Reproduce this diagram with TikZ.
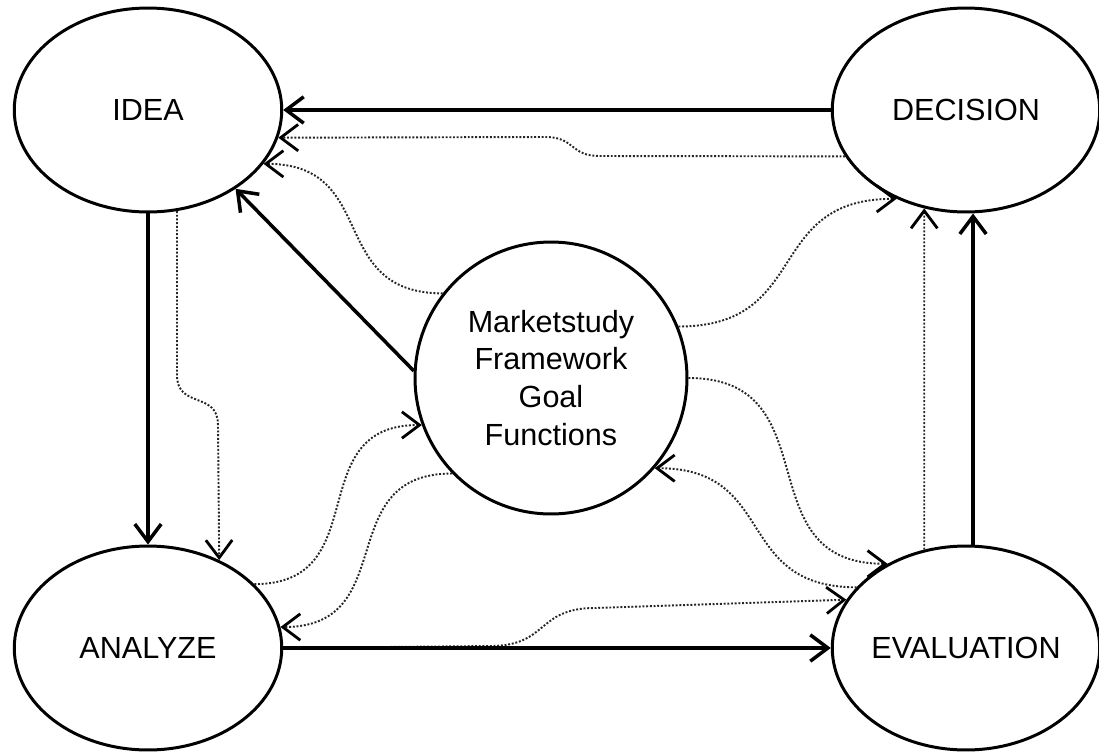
\documentclass[tikz,border=0pt]{standalone}
\usepackage{fontspec}
\setmainfont{Liberation Sans}
\usetikzlibrary{arrows.meta,shapes.geometric}

\begin{document}
\begin{tikzpicture}[x=0.02cm,y=0.02cm,
        phase/.style={draw,ellipse,line width=1.7pt,minimum width=5.35cm,minimum height=4.08cm,inner sep=0pt,font=\fontsize{17.4}{21.6}\selectfont},
        core/.style={draw,circle,line width=1.7pt,minimum size=5.44cm,inner sep=0pt,align=center,font=\fontsize{17.4}{21.6}\selectfont},
        flow/.style={line width=2pt,-{Straight Barb[length=10pt,width=15pt]}},
        hint/.style={line width=1.1pt,densely dotted,black!85,looseness=1.35,-{Straight Barb[length=10pt,width=15pt,line width=1.6pt,color=black]}}]
        \useasboundingbox (0,0) rectangle (1099,-751);
        \node[phase] (idea) at (148,-110) {IDEA};
        \node[phase] (decision) at (966,-110) {DECISION};
        \node[phase] (analyze) at (148,-648) {ANALYZE};
        \node[phase] (evaluation) at (966,-648) {EVALUATION};
        \node[core] (market) at (551,-378) {Marketstudy\\Framework\\Goal\\Functions};
        % dotted feedback
        \draw[hint] (analyze.east) -- (490,-646) to[out=0,in=180] (595,-608) -- (evaluation.158);
        \draw[hint] (decision.201) -- (600,-156) to[out=180,in=0] (545,-137) -- (idea.-12);
        \draw[hint] (idea.-74) -- (177,-375) to[out=-90,in=90] (218,-425) -- (analyze.51);
        \draw[hint] (market.142) to[out=180,in=0] (idea.-25);
        \draw[hint] (analyze.31) to[out=0,in=180] (market.200);
        \draw[hint] (market.224) to[out=180,in=0] (analyze.9);
        \draw[hint] (market.22) to[out=0,in=180] (decision.232);
        \draw[hint] (market.east) to[out=0,in=180] (evaluation.133);
        \draw[hint] (evaluation.151) to[out=180,in=0] (market.-41);
        \draw[hint] (evaluation.113) -- (decision.247);
        % main cycle
        \draw[flow] (decision.west) -- (idea.east);
        \draw[flow] (idea.south) -- (analyze.north);
        \draw[flow] (analyze.east) -- (evaluation.west);
        \draw[flow] ([xshift=4]evaluation.north) -- ([xshift=4]decision.south);
        \draw[flow] (market.177) -- (idea.-42);
\end{tikzpicture}
\end{document}
